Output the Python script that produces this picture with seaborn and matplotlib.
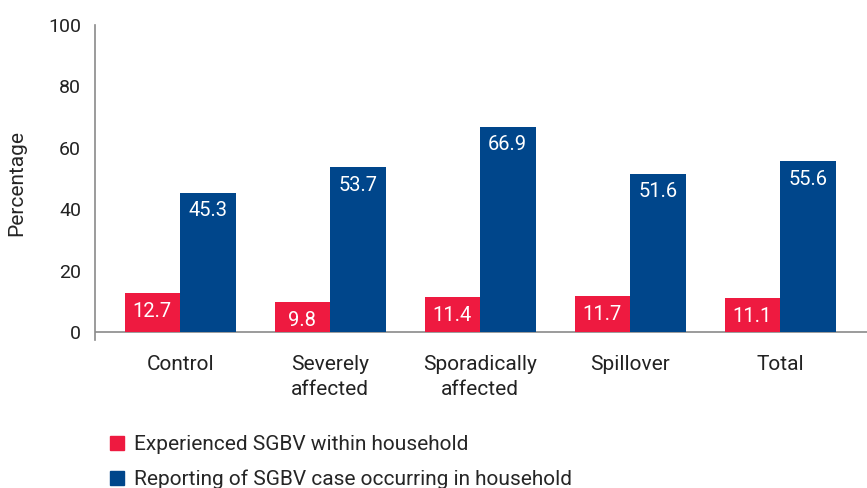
import pandas as pd
import numpy as np
import matplotlib.pyplot as plt
import seaborn as sns

categories = ['Control', 'Severely\naffected', 'Sporadically\naffected', 'Spillover', 'Total']
experienced = [12.7, 9.8, 11.4, 11.7, 11.1]
reporting = [45.3, 53.7, 66.9, 51.6, 55.6]
series = ['Experienced SGBV within household', 'Reporting of SGBV case occurring in household']
colors = ['#EE1A40', '#00468B']

df = pd.DataFrame({
    'category': categories * 2,
    'series': [series[0]] * 5 + [series[1]] * 5,
    'value': experienced + reporting,
})

sns.set_style('white')
plt.rcParams['font.family'] = ['Roboto', 'DejaVu Sans']

fig = plt.figure(figsize=(8.67, 4.88), dpi=100)
ax = fig.add_axes([0.1096, 0.303, 0.8904, 0.646])

sns.barplot(data=df, x='category', y='value', hue='series', hue_order=series,
            palette=colors, saturation=1, width=0.74, gap=0, linewidth=0,
            ax=ax, legend=False)

# value labels just under the top of each bar
for cont, vals in zip(ax.containers, [experienced, reporting]):
    for bar, v in zip(cont, vals):
        ax.annotate(f'{v}', (bar.get_x() + bar.get_width() / 2, bar.get_height()),
                    xytext=(0, -18), textcoords='offset pixels', ha='center', va='center',
                    color='white', fontsize=14.5)

ax.set_ylim(-2.6, 100)
ax.set_xlim(-0.567, 4.58)
ax.set_yticks([0, 20, 40, 60, 80, 100])
ax.set_xlabel('')
ax.set_ylabel('Percentage', fontsize=15, labelpad=16)
ax.tick_params(axis='both', length=0, colors='#222222')
ax.tick_params(axis='y', pad=10, labelsize=14)
ax.tick_params(axis='x', pad=11, labelsize=15)
for lab in ax.get_xticklabels():
    lab.set_linespacing(1.35)

for s in ['top', 'right', 'bottom']:
    ax.spines[s].set_visible(False)
ax.spines['left'].set_color('#8a8a8a')
ax.spines['left'].set_linewidth(1.2)
ax.axhline(0, color='#8a8a8a', lw=1.2, zorder=0)

handles = [plt.Rectangle((0, 0), 1, 1, color=c) for c in colors]
fig.legend(handles, series, loc='upper left', bbox_to_anchor=(0.127, 0.108),
           frameon=False, fontsize=15, handlelength=0.65, handleheight=0.65,
           handletextpad=0.5, labelspacing=0.75, borderpad=0, borderaxespad=0)

fig.savefig('out.png', dpi=100)
